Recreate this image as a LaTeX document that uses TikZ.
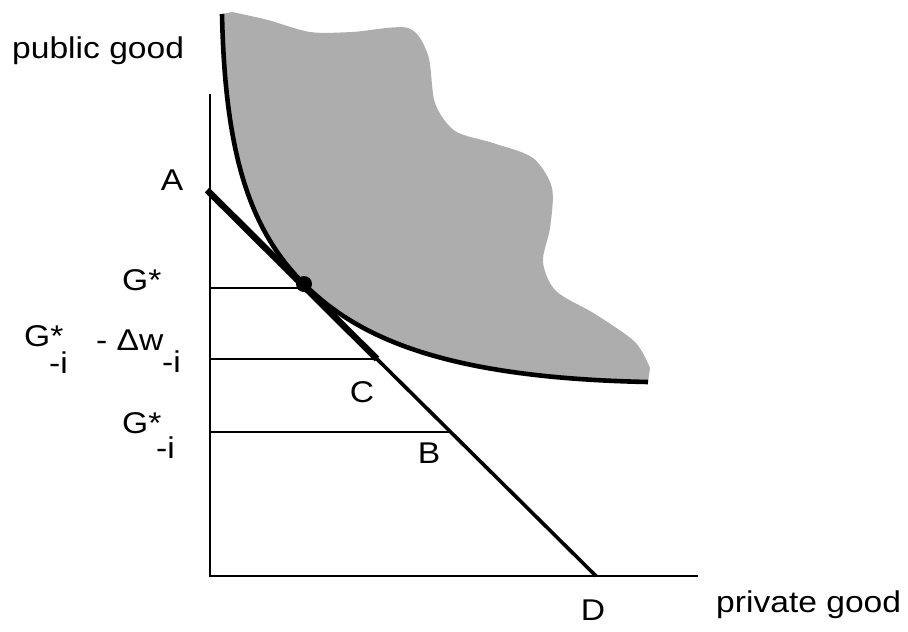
\documentclass[tikz,border=0pt]{standalone}
\usepackage{fontspec}
\setmainfont{Liberation Sans}[FakeStretch=1.12]
\begin{document}
\begin{tikzpicture}[x=1pt,y=-1pt,
  lbl/.style={font=\fontsize{30}{36}\selectfont, inner sep=0pt},
  tight/.style={text height=0.72em, text depth=0pt},
  axis/.style={line width=2.6pt},
  guide/.style={line width=2.4pt},
  budget/.style={line width=3.6pt},
  budgetthick/.style={line width=6.5pt},
  indiff/.style={line width=4.6pt},
  region/.style={fill=black!32}]
\useasboundingbox (0,0) rectangle (908,632);
% coordinates
\coordinate (O) at (210,576);
\coordinate (Ytop) at (210,94);
\coordinate (Xend) at (698,576);
\coordinate (A) at (207,190);
\coordinate (C) at (377,359);
\coordinate (B) at (451,432);
\coordinate (D) at (596,576);
\coordinate (Gs) at (210,288);
\coordinate (GsE) at (306,288);
\coordinate (Cl) at (210,359);
\coordinate (Bl) at (210,432);
\coordinate (T) at (304,284);
\coordinate (Ctop) at (222,14);
\coordinate (Cend) at (648,382);
% shaded region
\fill[region] (Ctop) .. controls (225,155) and (250,230) .. (T)
  .. controls (360,340) and (450,378) .. (Cend)
  -- plot[smooth] coordinates {(650,368) (635,342) (595,314) (556,291) (543,262) (550,228) (552,188) (533,158) (493,143) (455,131) (435,103) (428,55) (408,28) (352,32) (310,32) (268,20) (232,12)}
  -- cycle;
% indifference curve
\draw[indiff] (Ctop) .. controls (225,155) and (250,230) .. (T)
  .. controls (360,340) and (450,378) .. (Cend);
% axes
\draw[axis] (Ytop) -- (O) -- (Xend);
% guide lines
\draw[guide] (Gs) -- (GsE);
\draw[guide] (Cl) -- (C);
\draw[guide] (Bl) -- (B);
% budget line
\draw[budget] (C) -- (D);
\draw[budgetthick] (A) -- (C);
% tangency point
\fill (T) circle (8pt);
% labels
\node[lbl, anchor=base west] (pg) at (12,58) {public good};
\node[lbl, anchor=base] (lA) at (172,190) {A};
\node[lbl, tight, anchor=base west] (lG1) at (122,290) {G*};
\node[lbl, tight, anchor=base west] (lG2) at (24,346) {G*};
\node[lbl, tight, anchor=base west] (lG2s) at (49,373) {-i};
\node[lbl, tight, anchor=base west] (lDw) at (96,350) {- Δw};
\node[lbl, tight, anchor=base west] (lDws) at (162,372) {-i};
\node[lbl, tight, anchor=base] (lC) at (362,402) {C};
\node[lbl, tight, anchor=base west] (lG3) at (122,433) {G*};
\node[lbl, tight, anchor=base west] (lG3s) at (156,458) {-i};
\node[lbl, tight, anchor=base] (lB) at (429,463) {B};
\node[lbl, tight, anchor=base] (lD) at (593,620) {D};
\node[lbl, anchor=base west] (prg) at (716,612) {private good};
\end{tikzpicture}
\end{document}
